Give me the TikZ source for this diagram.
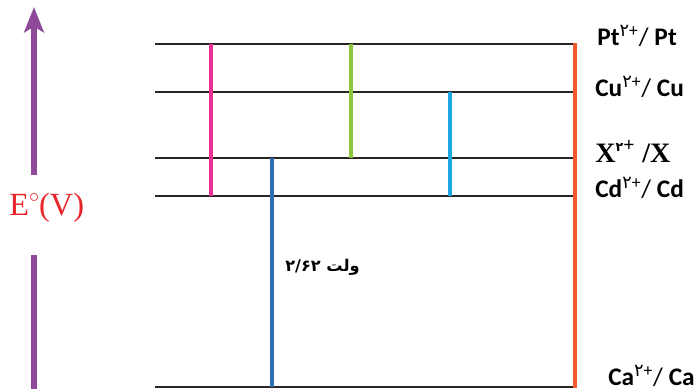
\documentclass[tikz,border=0pt]{standalone}
\usepackage{fontspec}
\setmainfont{Liberation Serif}
\newfontfamily\lblfont{Carlito}
\newfontfamily\arabicfont[Script=Arabic]{DejaVu Sans}
\TeXXeTstate=1
\usetikzlibrary{arrows.meta}

\definecolor{levelpink}{HTML}{E8318E}
\definecolor{levelgreen}{HTML}{8CC63F}
\definecolor{levelcyan}{HTML}{1CA9E2}
\definecolor{levelblue}{HTML}{2E6FB4}
\definecolor{levelorange}{HTML}{F15A2B}
\definecolor{axispurple}{HTML}{8C4A98}
\definecolor{axisred}{HTML}{E8262A}
\definecolor{levelblack}{HTML}{2B2522}

\newcommand{\fa}[1]{{\arabicfont #1}}

\tikzset{
  level/.style={line width=1.8pt, levelblack},
  gap/.style={line width=3.3pt},
  couple/.style={anchor=base west, inner sep=0pt, font=\lblfont\fontsize{18}{21}\selectfont},
}

\begin{document}
\begin{tikzpicture}[x=0.025cm, y=-0.025cm]
            \useasboundingbox (0,0) rectangle (696,391);

            % energy levels
            \coordinate (ptL) at (155,44);  \coordinate (ptR) at (577,44);
            \coordinate (cuL) at (155,92);  \coordinate (cuR) at (577,92);
            \coordinate (xL)  at (155,158); \coordinate (xR)  at (577,158);
            \coordinate (cdL) at (155,196); \coordinate (cdR) at (577,196);
            \coordinate (caL) at (155,387); \coordinate (caR) at (577,387);

            \draw[level] (ptL) -- (ptR);
            \draw[level] (cuL) -- (cuR);
            \draw[level] (xL) -- (xR);
            \draw[level] (cdL) -- (cdR);
            \draw[level] (caL) -- (caR);

            % cell voltages
            \draw[gap, levelpink]   (211,44)  -- (211,196);
            \draw[gap, levelgreen]  (351,44)  -- (351,158);
            \draw[gap, levelcyan]   (450,92)  -- (450,196);
            \draw[gap, levelblue]   (272,158) -- (272,387);
            \draw[gap, levelorange] (575,43)  -- (575,388);

            \node[anchor=west, inner sep=0pt, font=\arabicfont\bfseries\fontsize{11.5}{14}\selectfont] (volt) at (285,267)
              {\beginR ولت \beginL ۲/۶۲\endL\endR};

            % couples
            \node[couple] (pt) at (597,45) {\textbf{Pt}\textsuperscript{\fa{۲}+}/ \textbf{Pt}};
            \node[couple] (cu) at (595,96) {\textbf{Cu}\textsuperscript{\fa{۲}+}/ \textbf{Cu}};
            \node[anchor=base west, inner sep=0pt, font=\bfseries\fontsize{20}{23}\selectfont] (xx) at (595,162)
              {X\textsuperscript{\fa{\small ۲}+} /X};
            \node[couple] (cd) at (595,197) {\textbf{Cd}\textsuperscript{\fa{۲}+}/ \textbf{Cd}};
            \node[couple] (ca) at (608,385) {\textbf{Ca}\textsuperscript{\fa{۲}+}/ \textbf{Ca}};

            % potential axis
            \node[anchor=west, inner sep=0pt, text=axisred, font=\fontsize{23}{27}\selectfont] (ev) at (9,208)
              {E\raisebox{0.42em}{\fontsize{14}{14}\selectfont$\circ$}(V)};
            \coordinate (etop) at (34,7);
            \coordinate (eup)  at (34,175);
            \coordinate (edn)  at (34,255);
            \coordinate (ebot) at (34,389);
            \draw[line width=3.6pt, axispurple, -{Stealth[length=18pt, width=14pt, inset=4pt]}] (eup) -- (etop);
            \draw[line width=3.6pt, axispurple] (edn) -- (ebot);
        \end{tikzpicture}
\end{document}
